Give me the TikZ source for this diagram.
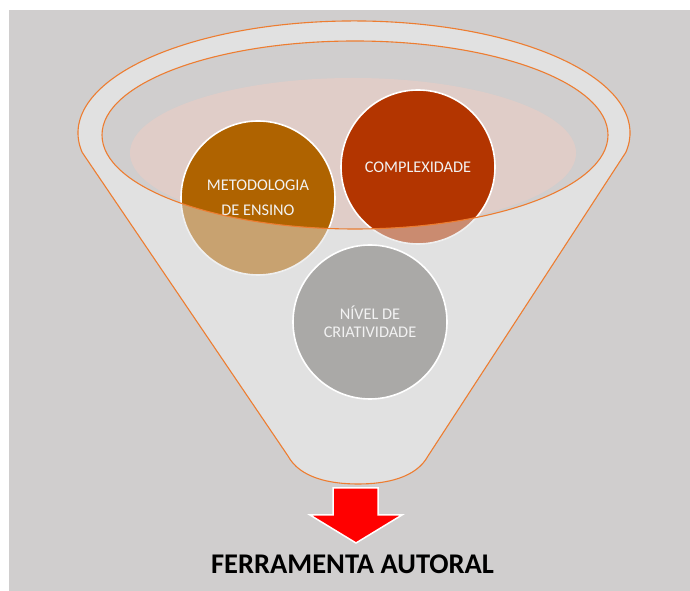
\documentclass[tikz,border=0pt]{standalone}
\usepackage{fontspec}
\usepackage{tikz}
\usetikzlibrary{positioning}
\newfontfamily\carlito{Carlito}
\definecolor{fundo}{RGB}{208,206,206}
\definecolor{funil}{RGB}{225,225,225}
\definecolor{borda}{RGB}{237,125,49}
\definecolor{rosa}{RGB}{224,205,200}
\definecolor{marrom}{RGB}{175,99,0}
\definecolor{tijolo}{RGB}{179,53,0}
\definecolor{cinza}{RGB}{170,169,167}
\definecolor{textobola}{RGB}{242,242,242}

\begin{document}
\begin{tikzpicture}[x=1pt, y=1pt,
    bola/.style={circle, draw=white, line width=1.6pt, minimum size=154pt, inner sep=0pt,
      text=textobola, align=center, font=\carlito\fontsize{16.3}{18}\selectfont},
    contorno/.style={draw=borda, line width=1.1pt}]
            \useasboundingbox (0,0) rectangle (690,591);
            \fill[fundo] (9,0) rectangle (690,581);

            % funnel body
            \def\funil{(625.8,438.6) arc[start angle=-10, end angle=190, x radius=276, y radius=112]
              -- (288,135) .. controls (300,113) and (330,107) .. (358,107)
              .. controls (386,107) and (416,113) .. (428,135) -- cycle}
            \fill[funil] \funil;
            \fill[fundo] (355,456) ellipse [x radius=253, y radius=94];
            \begin{scope}
                \clip (355,456) ellipse [x radius=253, y radius=94];
                \fill[rosa] (353,438) ellipse [x radius=223, y radius=75];
            \end{scope}

            \node[bola, fill=marrom] (metodologia) at (258,393) {METODOLOGIA\\[7pt]DE ENSINO};
            \node[bola, fill=tijolo] (complexidade) at (418,424) {COMPLEXIDADE};

            % front of the funnel, half see-through
            \fill[funil, opacity=0.5, even odd rule] \funil (355,456) ellipse [x radius=253, y radius=94];
            \draw[contorno] \funil;
            \draw[contorno] (355,456) ellipse [x radius=253, y radius=94];

            \node[bola, fill=cinza] (criatividade) at (370,269) {NÍVEL DE\\CRIATIVIDADE};

            \draw[fill=red, draw=white, line width=1.5pt]
              (333,103) -- (333,76) -- (310,76) -- (356,48) -- (402,76) -- (378,76) -- (378,103) -- cycle;
            \node[font=\carlito\bfseries\fontsize{28.5}{32}\selectfont] (ferramenta) at (352.5,27) {FERRAMENTA AUTORAL};
        \end{tikzpicture}
\end{document}
